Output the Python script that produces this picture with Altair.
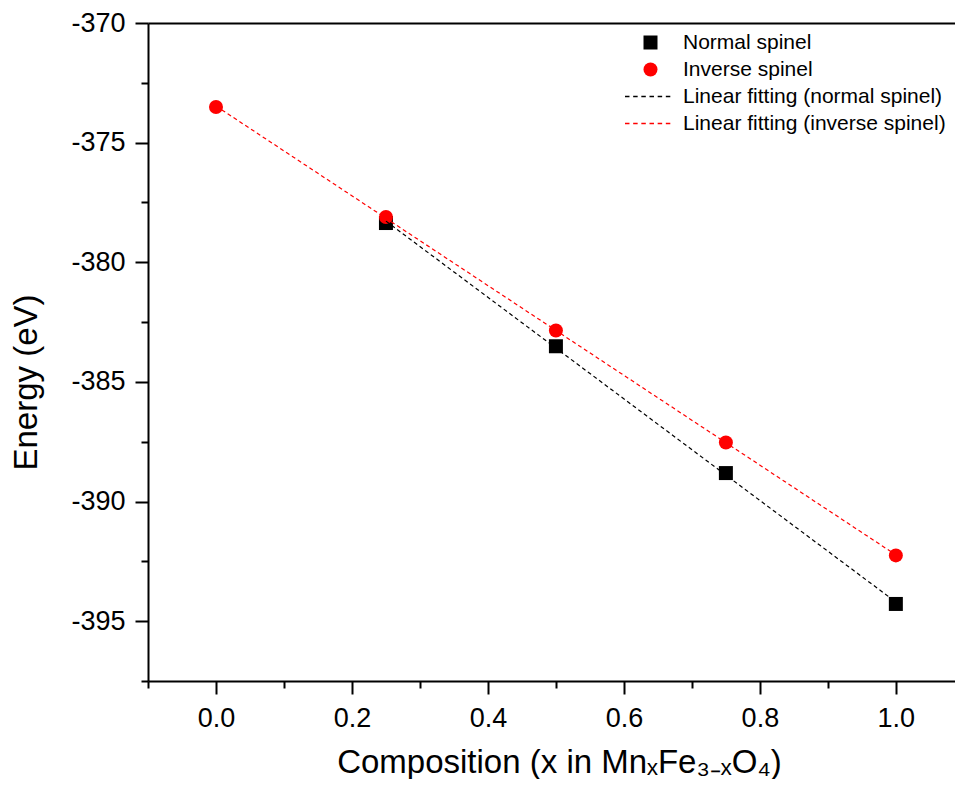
import altair as alt
import pandas as pd

# ---- data ----
normal_x = [0.25, 0.5, 0.75, 1.0]
normal_E = [-378.36, -383.51, -388.81, -394.28]
inverse_x = [0.0, 0.25, 0.5, 0.75, 1.0]
inverse_E = [-373.51, -378.11, -382.85, -387.53, -392.25]
series_names = ["Normal spinel", "Inverse spinel"]
fit_names = ["Linear fitting (normal spinel)", "Linear fitting (inverse spinel)"]
x_major = [0.0, 0.2, 0.4, 0.6, 0.8, 1.0]
x_minor = [-0.1, 0.1, 0.3, 0.5, 0.7, 0.9]
y_major = [-395, -390, -385, -380, -375, -370]
y_minor = [-397.5, -392.5, -387.5, -382.5, -377.5, -372.5]
x_domain = [-0.1, 1.087]
y_domain = [-397.5, -370]

rows = []
for xv, ev in zip(normal_x, normal_E):
    rows.append({"x": xv, "E": ev, "series": series_names[0], "fit": fit_names[0]})
for xv, ev in zip(inverse_x, inverse_E):
    rows.append({"x": xv, "E": ev, "series": series_names[1], "fit": fit_names[1]})
df = pd.DataFrame(rows)

FONT = "Liberation Sans"
xs = alt.Scale(domain=x_domain, nice=False, zero=False)
ys = alt.Scale(domain=y_domain, nice=False, zero=False)

# dashed-line legend glyph: six short filled dashes (unit coords, scaled by the legend symbol size)
dash_path = "".join(
    "M{:.3f},-0.09h0.64v0.18h-0.64z".format(-3.5 + i * 7 / 6) for i in range(6)
)

x_axis_main = alt.Axis(
    orient="bottom", values=x_major, format=".1f", grid=False,
    tickSize=13, tickWidth=2, tickColor="black", domainWidth=2, domainColor="black",
    labelFont=FONT, labelFontSize=27, labelColor="black", labelPadding=11,
    title="Composition (x in MnₓFe₃₋ₓO₄)", titleFont=FONT, titleFontSize=33,
    titleFontWeight="normal", titleColor="black", titleX=411, titleY=91,
    titleAlign="center", titleBaseline="alphabetic",
)
y_axis_main = alt.Axis(
    orient="left", values=y_major, labelExpr="toString(datum.value)", grid=False,
    tickSize=13, tickWidth=2, tickColor="black", domainWidth=2, domainColor="black",
    labelFont=FONT, labelFontSize=27, labelColor="black", labelPadding=10,
    title="Energy (eV)", titleFont=FONT, titleFontSize=33, titleFontWeight="normal",
    titleColor="black", titleAngle=270, titleX=-112, titleY=359,
    titleAlign="center", titleBaseline="alphabetic",
)

leg1 = alt.Legend(
    orient="none", legendX=492, legendY=9, title=None, padding=0,
    labelFont=FONT, labelFontSize=21, labelColor="black", labelOffset=22,
    labelLimit=400, symbolSize=196, rowPadding=5, symbolStrokeWidth=0,
)
leg2 = alt.Legend(
    orient="none", legendX=491, legendY=63, title=None, padding=0,
    labelFont=FONT, labelFontSize=21, labelColor="black", labelOffset=23,
    labelLimit=400, symbolSize=196, symbolType=dash_path,
    symbolStrokeWidth=0, rowPadding=5,
)

points = alt.Chart(df).mark_point(filled=True, size=196, opacity=1).encode(
    x=alt.X("x:Q", scale=xs, axis=x_axis_main),
    y=alt.Y("E:Q", scale=ys, axis=y_axis_main),
    color=alt.Color("series:N", scale=alt.Scale(domain=series_names, range=["black", "red"]), legend=leg1),
    shape=alt.Shape("series:N", scale=alt.Scale(domain=series_names, range=["square", "circle"]), legend=leg1),
)

lines = alt.Chart(df).transform_regression(
    "x", "E", groupby=["fit"]
).mark_line(strokeWidth=1.2, strokeDash=[4, 3]).encode(
    x=alt.X("x:Q", scale=xs, axis=None),
    y=alt.Y("E:Q", scale=ys, axis=None),
    stroke=alt.Stroke("fit:N", scale=alt.Scale(domain=fit_names, range=["black", "red"]), legend=None),
)

# legend carrier for the fitting lines (draws no marks)
fit_legend = alt.Chart(df).transform_filter("datum.x > 100").mark_point(
    filled=True, opacity=1
).encode(
    x=alt.X("x:Q", scale=xs, axis=None),
    y=alt.Y("E:Q", scale=ys, axis=None),
    color=alt.Color("fit:N", scale=alt.Scale(domain=fit_names, range=["black", "red"]), legend=leg2),
)

minor = alt.Chart(df).mark_point(opacity=0).encode(
    x=alt.X("x:Q", scale=xs, axis=alt.Axis(
        orient="bottom", values=x_minor, tickSize=7, tickWidth=2, tickColor="black",
        labels=False, domain=False, grid=False, title=None)),
    y=alt.Y("E:Q", scale=ys, axis=alt.Axis(
        orient="left", values=y_minor, tickSize=7, tickWidth=2, tickColor="black",
        labels=False, domain=False, grid=False, title=None)),
)

top = alt.Chart(df).mark_point(opacity=0).encode(
    x=alt.X("x:Q", scale=xs, axis=alt.Axis(
        orient="top", ticks=False, labels=False, domainWidth=2, domainColor="black",
        grid=False, title=None)),
    y=alt.Y("E:Q", scale=ys, axis=None),
)

chart = alt.layer(points, lines, fit_legend, minor, top).resolve_scale(
    color="independent", shape="independent", stroke="independent"
).resolve_axis(
    x="independent", y="independent"
).properties(
    width=807, height=658, autosize="none",
    padding={"left": 140, "top": 15, "right": 0, "bottom": 98},
    background="white",
).configure_view(stroke=None)

chart.save("out.html", embed_options={"renderer": "svg", "actions": False})
